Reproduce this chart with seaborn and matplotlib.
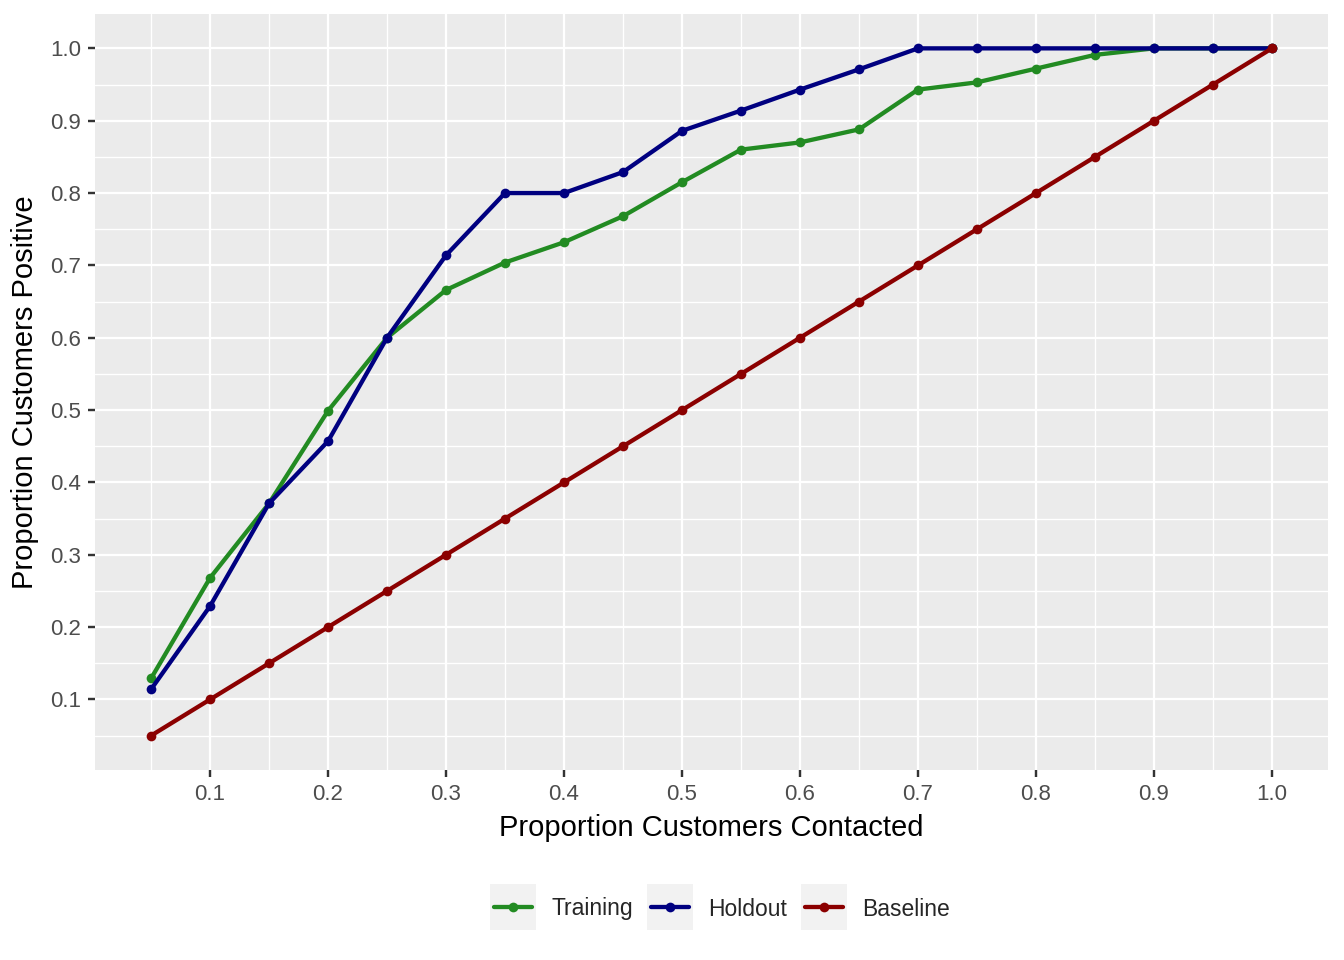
import matplotlib
matplotlib.use("Agg")
import matplotlib.pyplot as plt
import seaborn as sns
import pandas as pd
import numpy as np
from matplotlib.lines import Line2D

prop_contacted = [0.05, 0.10, 0.15, 0.20, 0.25, 0.30, 0.35, 0.40, 0.45, 0.50,
                  0.55, 0.60, 0.65, 0.70, 0.75, 0.80, 0.85, 0.90, 0.95, 1.00]
training = [0.129, 0.268, 0.371, 0.499, 0.600, 0.666, 0.704, 0.732, 0.768, 0.815,
            0.860, 0.870, 0.888, 0.943, 0.953, 0.972, 0.991, 1.000, 1.000, 1.000]
holdout = [0.114, 0.229, 0.371, 0.457, 0.600, 0.714, 0.800, 0.800, 0.829, 0.886,
           0.914, 0.943, 0.971, 1.000, 1.000, 1.000, 1.000, 1.000, 1.000, 1.000]
baseline = [0.05, 0.10, 0.15, 0.20, 0.25, 0.30, 0.35, 0.40, 0.45, 0.50,
            0.55, 0.60, 0.65, 0.70, 0.75, 0.80, 0.85, 0.90, 0.95, 1.00]
series_names = ["Training", "Holdout", "Baseline"]
series_colors = ["#228B22", "#000080", "#8B0000"]
x_ticks = [0.1, 0.2, 0.3, 0.4, 0.5, 0.6, 0.7, 0.8, 0.9, 1.0]
y_ticks = [0.1, 0.2, 0.3, 0.4, 0.5, 0.6, 0.7, 0.8, 0.9, 1.0]

df = pd.DataFrame({
    "x": prop_contacted * 3,
    "y": training + holdout + baseline,
    "series": [s for s in series_names for _ in prop_contacted],
})

sns.set_theme(style="ticks", rc={
    "xtick.major.size": 5.2, "ytick.major.size": 5.2,
    "xtick.major.width": 1.6, "ytick.major.width": 1.6,
    "xtick.minor.size": 0, "ytick.minor.size": 0,
    "xtick.color": "#333333", "ytick.color": "#333333",
})
plt.rcParams["font.family"] = ["Liberation Sans", "DejaVu Sans"]

fig = plt.figure(figsize=(13.44, 9.6), dpi=100)
ax_w_px, ax_h_px = 1328 - 95, 770 - 14
ax = fig.add_axes([95 / 1344, 1 - 770 / 960, ax_w_px / 1344, ax_h_px / 960])
ax.set_facecolor("#EBEBEB")

LW = 3.1
MS = 7.0
palette = dict(zip(series_names, series_colors))
sns.lineplot(data=df, x="x", y="y", hue="series", palette=palette, ax=ax,
             linewidth=LW, marker="o", markersize=MS, markeredgewidth=0,
             legend=False, zorder=3)

ax.set_xlim(0.0025, 1.0475)
ax.set_ylim(0.0025, 1.0475)
ax.set_xticks(x_ticks)
ax.set_xticklabels([f"{v:.1f}" for v in x_ticks])
ax.set_yticks(y_ticks)
ax.set_yticklabels([f"{v:.1f}" for v in y_ticks])
minor = [0.05 + 0.1 * i for i in range(10)]
ax.set_xticks(minor, minor=True)
ax.set_yticks(minor, minor=True)
ax.grid(which="major", color="white", linewidth=1.6)
ax.grid(which="minor", color="white", linewidth=1.0)
ax.set_axisbelow(True)
for s in ax.spines.values():
    s.set_visible(False)
ax.tick_params(which="major", bottom=True, left=True, length=5.2, width=1.6,
               color="#333333", labelsize=16, labelcolor="#4D4D4D", pad=5)
ax.tick_params(which="minor", bottom=False, left=False, length=0)

# explicit tick marks (outside the panel), placed at the tick values
tick_px = 7
ax.vlines(x_ticks, -tick_px / ax_h_px, 0, transform=ax.get_xaxis_transform(),
          colors="#333333", linewidth=1.6, clip_on=False, zorder=5)
ax.hlines(y_ticks, -tick_px / ax_w_px, 0, transform=ax.get_yaxis_transform(),
          colors="#333333", linewidth=1.6, clip_on=False, zorder=5)

ax.set_xlabel("Proportion Customers Contacted", fontsize=21, color="black", labelpad=6)
ax.set_ylabel("Proportion Customers Positive", fontsize=21, color="black", labelpad=8)

handles = [Line2D([0], [0], color=c, linewidth=LW, marker="o", markersize=MS,
                  markeredgewidth=0) for c in series_colors]
leg = fig.legend(handles, series_names, loc="center", bbox_to_anchor=(722 / 1344, 1 - 909 / 960),
                 ncol=3, frameon=False, fontsize=16.5, handlelength=1.65,
                 handletextpad=0.83, columnspacing=0.8)

fig.canvas.draw()
renderer = fig.canvas.get_renderer()
for h in leg.legend_handles:
    bb = h.get_window_extent(renderer)
    cx = (bb.x0 + bb.x1) / 2
    cy = (bb.y0 + bb.y1) / 2
    w = 46
    rect = plt.Rectangle(((cx - w / 2) / 1344, (cy - w / 2) / 960), w / 1344, w / 960,
                         transform=fig.transFigure, facecolor="#F2F2F2",
                         edgecolor="none", zorder=0)
    fig.patches.append(rect)

fig.savefig("out.png", dpi=100, facecolor="white")
